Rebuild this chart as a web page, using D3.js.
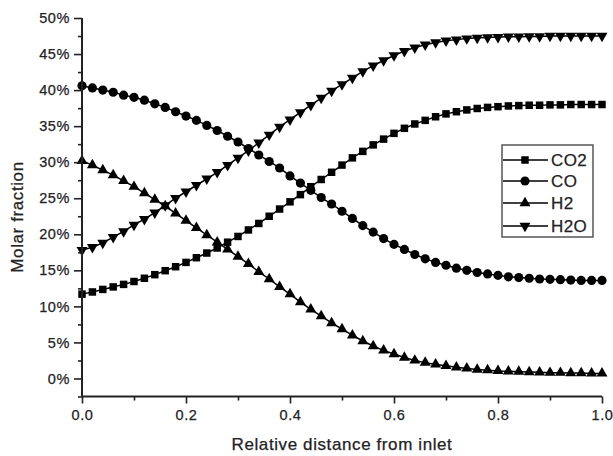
<!DOCTYPE html>
<html lang="en">
<head>
<meta charset="utf-8">
<title>Molar fraction along reactor</title>
<script src="https://d3js.org/d3.v7.min.js"></script>
<style>
  body { margin: 0; background: #fff; }
  text { font-family: "Liberation Sans", Arial, sans-serif; fill: #222; stroke: #222; stroke-width: 0.25px; }
  .tick-label { font-size: 14.5px; letter-spacing: 0.6px; }
  .axis-title { font-size: 17px; letter-spacing: 0.6px; }
  .legend-label { font-size: 17px; letter-spacing: 0.4px; }
</style>
</head>
<body>
<script>
// relative distance from inlet
var distance = [0, 0.02, 0.04, 0.06, 0.08, 0.10, 0.12, 0.14, 0.16, 0.18,
  0.20, 0.22, 0.24, 0.26, 0.28, 0.30, 0.32, 0.34, 0.36, 0.38,
  0.40, 0.42, 0.44, 0.46, 0.48, 0.50, 0.52, 0.54, 0.56, 0.58,
  0.60, 0.62, 0.64, 0.66, 0.68, 0.70, 0.72, 0.74, 0.76, 0.78,
  0.80, 0.82, 0.84, 0.86, 0.88, 0.90, 0.92, 0.94, 0.96, 0.98, 1.00];

// molar fractions (%)
var co2 = [11.7, 12.0, 12.35, 12.7, 13.05, 13.45, 13.9, 14.4, 14.95, 15.5,
  16.1, 16.75, 17.4, 18.1, 18.9, 19.7, 20.6, 21.5, 22.5, 23.5,
  24.5, 25.5, 26.6, 27.6, 28.6, 29.6, 30.6, 31.5, 32.4, 33.2,
  34.0, 34.7, 35.3, 35.8, 36.3, 36.7, 37.0, 37.25, 37.45, 37.6,
  37.7, 37.8, 37.85, 37.9, 37.9, 37.95, 37.95, 38.0, 38.0, 38.0, 38.0];
var co = [40.6, 40.3, 40.0, 39.7, 39.3, 39.0, 38.6, 38.1, 37.6, 37.0,
  36.4, 35.8, 35.1, 34.4, 33.6, 32.8, 31.9, 31.0, 30.1, 29.2,
  28.1, 27.1, 26.1, 25.1, 24.2, 23.2, 22.2, 21.2, 20.3, 19.4,
  18.6, 17.9, 17.2, 16.6, 16.1, 15.7, 15.3, 15.0, 14.7, 14.5,
  14.3, 14.1, 14.0, 13.9, 13.8, 13.75, 13.7, 13.65, 13.6, 13.6, 13.6];
var h2 = [30.2, 29.6, 28.9, 28.2, 27.4, 26.6, 25.7, 24.8, 23.9, 22.9,
  21.9, 20.9, 19.9, 18.9, 17.9, 16.9, 15.9, 14.8, 13.8, 12.7,
  11.7, 10.6, 9.6, 8.65, 7.7, 6.85, 6.0, 5.2, 4.5, 3.9,
  3.4, 2.9, 2.5, 2.2, 1.95, 1.75, 1.55, 1.4, 1.25, 1.15,
  1.05, 1.0, 0.95, 0.9, 0.85, 0.8, 0.8, 0.75, 0.75, 0.7, 0.7];
var h2o = [17.8, 18.2, 18.8, 19.6, 20.4, 21.3, 22.1, 23.0, 24.0, 25.0,
  25.9, 26.8, 27.7, 28.6, 29.6, 30.6, 31.6, 32.7, 33.8, 34.9,
  35.9, 36.9, 37.9, 38.9, 39.9, 40.8, 41.7, 42.6, 43.4, 44.1,
  44.8, 45.4, 45.9, 46.3, 46.6, 46.85, 47.0, 47.15, 47.25, 47.3,
  47.35, 47.4, 47.4, 47.45, 47.45, 47.5, 47.5, 47.5, 47.5, 47.5, 47.5];

var seriesNames = ["CO2", "CO", "H2", "H2O"];
var xTicks = [0, 0.2, 0.4, 0.6, 0.8, 1.0];
var yTicks = [0, 5, 10, 15, 20, 25, 30, 35, 40, 45, 50];

var width = 613, height = 456;
var plotLeft = 82, plotRight = 602, plotTop = 18, plotBottom = 396.5;

var svg = d3.select("body").append("svg")
  .attr("width", width)
  .attr("height", height);

var x = d3.scaleLinear().domain([0, 1]).range([plotLeft, plotRight]);
var y = d3.scaleLinear().domain([-2.5, 50]).range([plotBottom, plotTop]);

// symbol for each series
var shapes = [
  { type: d3.symbolSquare, size: 56, rot: 0 },
  { type: d3.symbolCircle, size: 66, rot: 0 },
  { type: d3.symbolTriangle, size: 52, rot: 0 },
  { type: d3.symbolTriangle, size: 52, rot: 180 }
];
var allSeries = [co2, co, h2, h2o];

var line = d3.line()
  .x(function(d, i) { return x(distance[i]); })
  .y(function(d) { return y(d); });

allSeries.forEach(function(vals, s) {
  var g = svg.append("g").attr("class", "series");
  g.append("path")
    .attr("d", line(vals))
    .attr("fill", "none")
    .attr("stroke", "#000")
    .attr("stroke-width", 1.5);
  g.selectAll("path.mark")
    .data(vals)
    .enter().append("path")
    .attr("class", "mark")
    .attr("d", d3.symbol().type(shapes[s].type).size(shapes[s].size))
    .attr("transform", function(d, i) {
      return "translate(" + x(distance[i]) + "," + y(d) + ") rotate(" + shapes[s].rot + ")";
    })
    .attr("fill", "#000");
});

// ==== axes ====
var xAxis = svg.append("g")
  .attr("transform", "translate(0," + plotBottom + ")")
  .call(d3.axisBottom(x).tickValues(xTicks).tickSize(7).tickPadding(6)
    .tickFormat(d3.format(".1f")));
svg.append("g")
  .attr("transform", "translate(0," + plotBottom + ")")
  .call(d3.axisBottom(x).tickValues([0.1, 0.3, 0.5, 0.7, 0.9]).tickSize(4).tickFormat(""))
  .select(".domain").remove();

var yAxis = svg.append("g")
  .attr("transform", "translate(" + plotLeft + ",0)")
  .call(d3.axisLeft(y).tickValues(yTicks).tickSize(8).tickPadding(4)
    .tickFormat(function(d) { return d + "%"; }));
svg.append("g")
  .attr("transform", "translate(" + plotLeft + ",0)")
  .call(d3.axisLeft(y).tickValues([-2.5, 2.5, 7.5, 12.5, 17.5, 22.5, 27.5, 32.5, 37.5, 42.5, 47.5]).tickSize(4).tickFormat(""))
  .select(".domain").remove();

svg.selectAll(".domain")
  .attr("stroke", "#222").attr("stroke-width", 2);
svg.selectAll(".tick line")
  .attr("stroke", "#222").attr("stroke-width", 1.6);
xAxis.select(".domain").attr("d", "M" + plotLeft + ",0H" + plotRight);
yAxis.select(".domain").attr("d", "M0," + plotTop + "V" + plotBottom);
svg.selectAll(".tick text")
  .attr("class", "tick-label")
  .attr("fill", "#333");
svg.selectAll("g").attr("font-size", null).attr("font-family", null);

svg.append("text")
  .attr("class", "axis-title")
  .attr("x", (plotLeft + plotRight) / 2)
  .attr("y", 450)
  .attr("text-anchor", "middle")
  .text("Relative distance from inlet");

svg.append("text")
  .attr("class", "axis-title")
  .attr("transform", "translate(23,217) rotate(-90)")
  .attr("text-anchor", "middle")
  .text("Molar fraction");

// ==== legend ====
var lg = svg.append("g").attr("class", "legend");
lg.append("rect")
  .attr("x", 502).attr("y", 145)
  .attr("width", 91).attr("height", 92)
  .attr("fill", "#fff")
  .attr("stroke", "#555")
  .attr("stroke-width", 1.5);

var rowY = [160, 181, 203, 226];
seriesNames.forEach(function(name, s) {
  var ry = rowY[s];
  lg.append("line")
    .attr("x1", 503).attr("x2", 548)
    .attr("y1", ry).attr("y2", ry)
    .attr("stroke", "#000").attr("stroke-width", 1.5);
  lg.append("path")
    .attr("d", d3.symbol().type(shapes[s].type).size(shapes[s].size)())
    .attr("transform", "translate(525," + ry + ") rotate(" + shapes[s].rot + ")")
    .attr("fill", "#000");
  lg.append("text")
    .attr("class", "legend-label")
    .attr("x", 551)
    .attr("y", ry)
    .attr("dy", "0.36em")
    .text(name);
});
</script>
</body>
</html>
